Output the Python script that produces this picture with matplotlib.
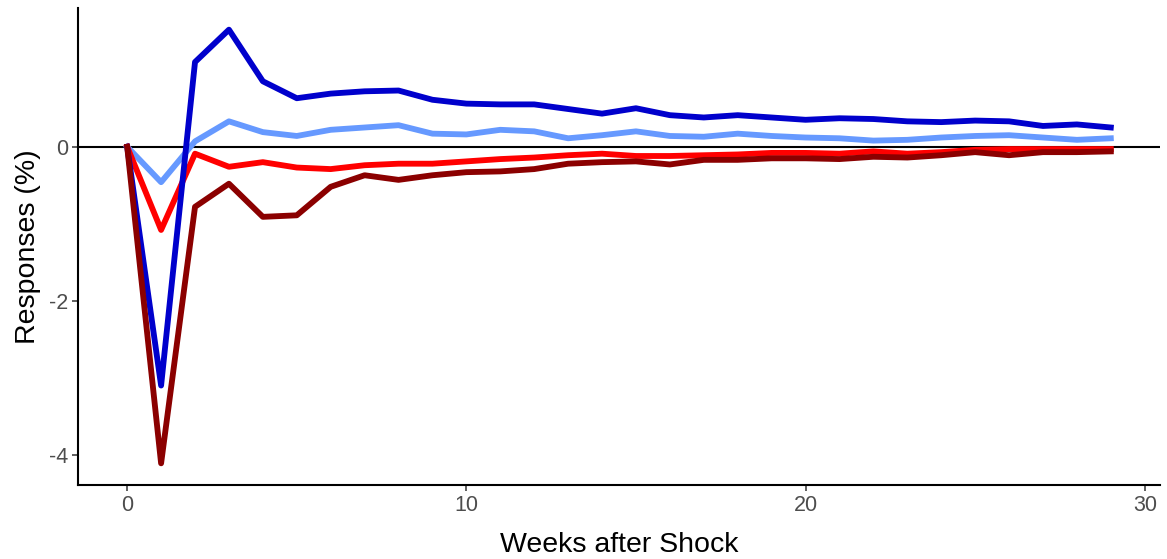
import matplotlib
matplotlib.use('Agg')
import matplotlib.pyplot as plt
import numpy as np

plt.rcParams['font.family'] = ['Liberation Sans', 'DejaVu Sans']
plt.rcParams['axes.unicode_minus'] = False

# weeks after the shock
weeks = list(range(30))

# responses (%)
dark_blue = [0, -3.10, 1.10, 1.52, 0.85, 0.63, 0.69, 0.72, 0.73, 0.61,
             0.56, 0.55, 0.55, 0.49, 0.43, 0.50, 0.41, 0.38, 0.41, 0.38,
             0.35, 0.37, 0.36, 0.33, 0.32, 0.34, 0.33, 0.27, 0.29, 0.25]
light_blue = [0, -0.46, 0.07, 0.33, 0.19, 0.14, 0.22, 0.25, 0.28, 0.17,
              0.16, 0.22, 0.20, 0.11, 0.15, 0.20, 0.14, 0.13, 0.17, 0.14,
              0.12, 0.11, 0.08, 0.09, 0.12, 0.14, 0.15, 0.12, 0.09, 0.11]
red = [0, -1.08, -0.09, -0.26, -0.20, -0.27, -0.29, -0.24, -0.22, -0.22,
       -0.19, -0.16, -0.14, -0.11, -0.09, -0.12, -0.12, -0.11, -0.10, -0.08,
       -0.08, -0.09, -0.06, -0.09, -0.07, -0.04, -0.03, -0.03, -0.03, -0.03]
dark_red = [0, -4.11, -0.78, -0.48, -0.91, -0.89, -0.52, -0.37, -0.43, -0.37,
            -0.33, -0.32, -0.29, -0.22, -0.20, -0.19, -0.23, -0.17, -0.17, -0.15,
            -0.15, -0.16, -0.13, -0.14, -0.11, -0.07, -0.11, -0.07, -0.07, -0.06]

x_ticks = [0, 10, 20, 30]
y_ticks = [-4, -2, 0]

fig = plt.figure(figsize=(11.67, 5.59), dpi=100)
ax = fig.add_axes([78/1167, (559-485)/559, (1160-78)/1167, (485-8)/559])

ax.axhline(0, color='black', lw=1.5, zorder=1)
lw = 4.2
ax.plot(weeks, light_blue, color='#6699FF', lw=lw, zorder=2)
ax.plot(weeks, red, color='#FF0000', lw=lw, zorder=3)
ax.plot(weeks, dark_blue, color='#0000CC', lw=lw, zorder=4)
ax.plot(weeks, dark_red, color='#8B0000', lw=lw, zorder=5)

ymin = min(dark_red)
ymax = max(dark_blue)
pad = 0.05 * (ymax - ymin)
ax.set_ylim(ymin - pad, ymax + pad)
ax.set_xlim(-1.45, 30.45)

ax.set_xticks(x_ticks)
ax.set_yticks(y_ticks)
ax.tick_params(axis='both', labelsize=15.5, labelcolor='#4D4D4D', color='#333333',
               length=4, width=1.1, pad=3)

for s in ['top', 'right']:
    ax.spines[s].set_visible(False)
for s in ['left', 'bottom']:
    ax.spines[s].set_linewidth(1.5)

ax.set_xlabel('Weeks after Shock', fontsize=20.5, labelpad=12)
ax.set_ylabel('Responses (%)', fontsize=20.5, labelpad=6)

fig.savefig('out.png', dpi=100)
